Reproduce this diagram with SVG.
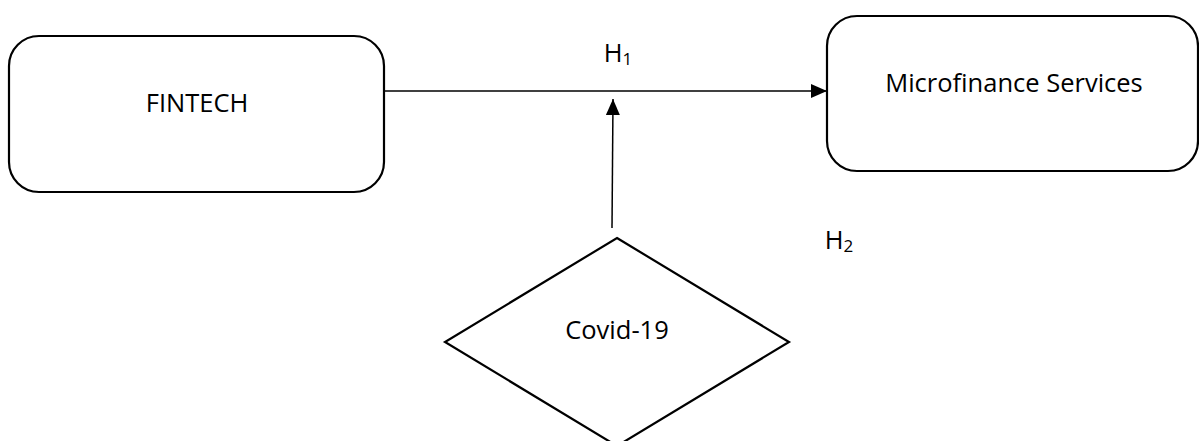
<svg xmlns="http://www.w3.org/2000/svg" width="1199" height="441" viewBox="0 0 1199 441">
<style>
.box{fill:#fff;stroke:#000;stroke-width:2.2}
.ln{stroke:#000;stroke-width:1.5;fill:none}
.t{font-family:"Open Sans","Liberation Sans",sans-serif;font-size:25.5px;fill:#000;text-anchor:middle}
</style>
<defs>
<marker id="ah" markerWidth="16" markerHeight="14" refX="16" refY="7" orient="auto" markerUnits="userSpaceOnUse">
<path d="M0,0 L16,7 L0,14 Z" fill="#000"/>
</marker>
</defs>
<rect width="1199" height="441" fill="#fff"/>
<g id="connectors">
<line class="ln" x1="384" y1="91" x2="827" y2="91" marker-end="url(#ah)"/>
<line class="ln" x1="612" y1="228" x2="613" y2="99" marker-end="url(#ah)"/>
</g>
<g id="fintech">
<rect class="box" x="9" y="36" width="375" height="156" rx="30"/>
<text class="t" x="197" y="112">FINTECH</text>
</g>
<g id="microfinance">
<rect class="box" x="827" y="16" width="371" height="155" rx="30"/>
<text class="t" x="1014" y="92">Microfinance Services</text>
</g>
<g id="covid">
<polygon class="box" points="617,238 789,342 617,446 445,342"/>
<text class="t" x="617" y="339">Covid-19</text>
</g>
<g id="labels">
<text class="t" x="618" y="62">H<tspan font-size="17" dy="3">1</tspan></text>
<text class="t" x="839" y="249">H<tspan font-size="17" dy="3">2</tspan></text>
</g>
</svg>
